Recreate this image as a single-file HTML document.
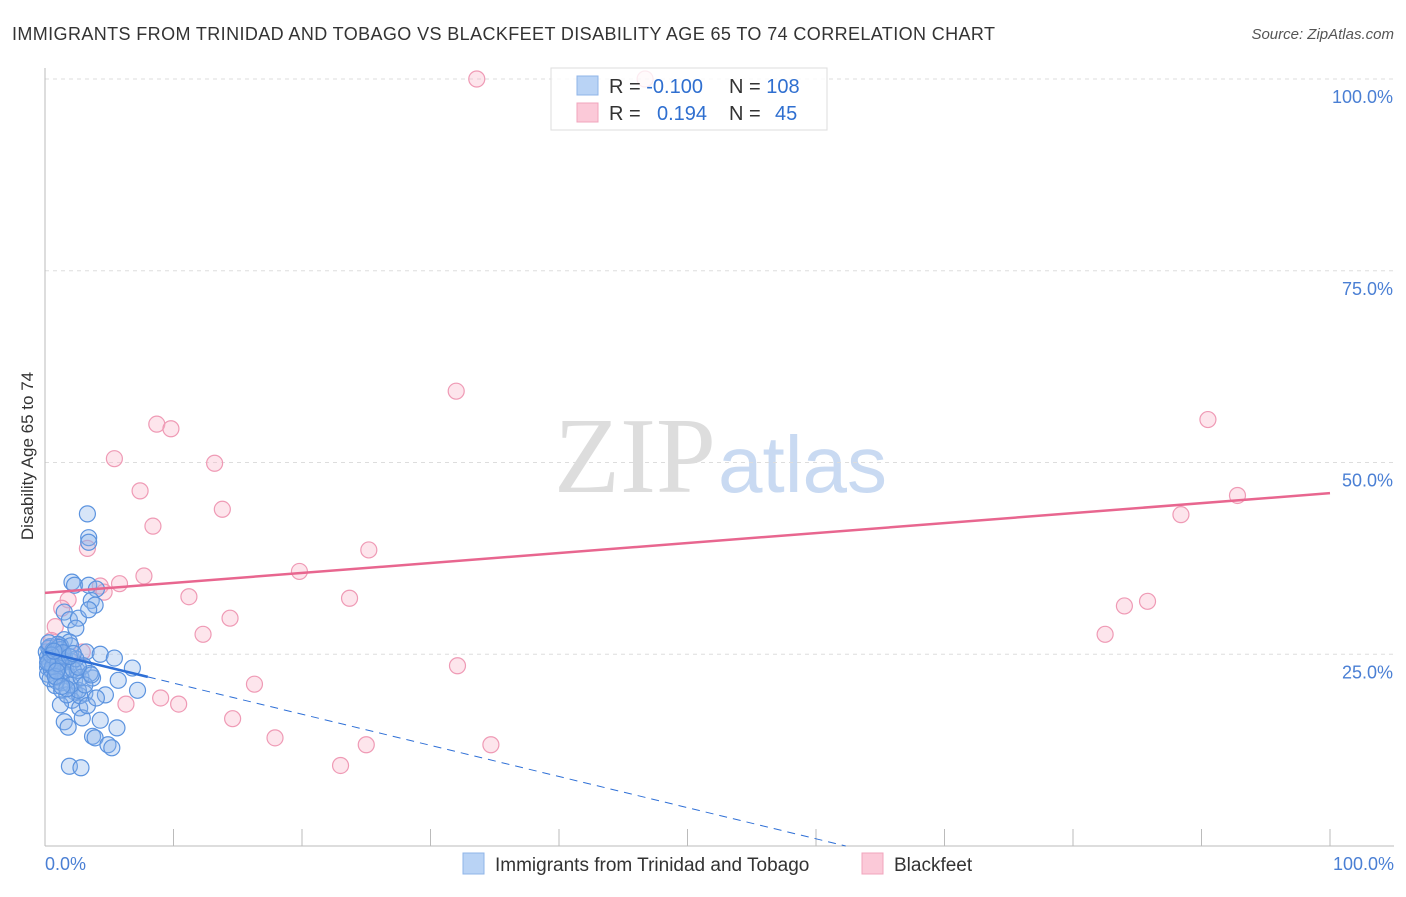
<!DOCTYPE html>
<html><head><meta charset="utf-8"><style>
body{margin:0;background:#fff;font-family:"Liberation Sans",sans-serif}
</style></head><body>
<svg width="1406" height="892" xmlns="http://www.w3.org/2000/svg">
<text x="12" y="40" font-size="18" fill="#333" textLength="983">IMMIGRANTS FROM TRINIDAD AND TOBAGO VS BLACKFEET DISABILITY AGE 65 TO 74 CORRELATION CHART</text>
<text x="1394" y="39" font-size="15" fill="#555" font-style="italic" text-anchor="end">Source: ZipAtlas.com</text>
<text x="716" y="492" font-size="108" fill="#ddd" text-anchor="end" font-family="Liberation Serif">ZIP</text>
<text x="718" y="492" font-size="80" fill="#c9daf2">atlas</text>
<g id="grid"></g>
<line x1="45" y1="68" x2="45" y2="846" stroke="#bbb"/>
<line x1="45" y1="846" x2="1394" y2="846" stroke="#bbb"/>
<text transform="translate(33,456) rotate(-90)" font-size="17" fill="#333" text-anchor="middle">Disability Age 65 to 74</text>
<text x="45" y="870" font-size="18" fill="#4a7fd4">0.0%</text>
<text x="1394" y="870" font-size="18" fill="#4a7fd4" text-anchor="end">100.0%</text>
<g id="marks"></g>
<g>
<rect x="551" y="68" width="276" height="62" fill="#fff" fill-opacity="0.8" stroke="#ddd"/>
<rect x="577" y="76" width="21" height="19" fill="#b9d3f5" stroke="#8fb4e8"/>
<rect x="577" y="103" width="21" height="19" fill="#fbc9d8" stroke="#f0a5bd"/>
<text x="609" y="93" font-size="20" fill="#333">R = <tspan fill="#2f6fd0">-0.100</tspan><tspan x="729">N = </tspan><tspan fill="#2f6fd0">108</tspan></text>
<text x="609" y="120" font-size="20" fill="#333">R = <tspan x="657" fill="#2f6fd0">0.194</tspan><tspan x="729">N = </tspan><tspan x="775" fill="#2f6fd0">45</tspan></text>
</g>
<g>
<rect x="463" y="853" width="21" height="21" fill="#b9d3f5" stroke="#8fb4e8"/>
<text x="495" y="871" font-size="19" fill="#333">Immigrants from Trinidad and Tobago</text>
<rect x="862" y="853" width="21" height="21" fill="#fbc9d8" stroke="#f0a5bd"/>
<text x="894" y="871" font-size="19" fill="#333">Blackfeet</text>
</g>
</svg>
<script>
const yTicks=[25,50,75,100];
const yTickLabels=["25.0%","50.0%","75.0%","100.0%"];
const xTicks=[0,10,20,30,40,50,60,70,80,90,100];
const blueX=[3.3,3.4,3.4,2.1,2.3,3.4,4.0,3.6,3.9,1.5,1.9,2.6,3.4,2.4,1.5,1.9,1.2,0.8,0.5,0.4,0.7,1.2,1.6,2.1,3.2,4.3,5.4,6.8,5.7,3.7,0.8,1.3,2.3,3.1,4.7,7.2,2.1,1.2,2.7,2.9,1.5,1.8,4.3,5.6,3.7,3.9,4.9,5.2,1.9,2.8,0.1,0.2,0.4,0.5,0.9,1.0,0.2,0.4,1.3,1.6,0.9,1.8,2.3,1.3,2.7,3.3,4.0,1.7,2.6,0.3,0.6,0.8,1.1,0.2,0.5,1.4,2.0,2.5,3.0,1.0,0.3,0.7,1.5,2.2,2.8,0.4,0.9,1.2,3.5,2.0,0.6,1.1,1.7,0.3,0.8,2.4,3.1,1.4,0.5,1.0,2.6,0.2,0.7,1.9,3.6,1.3,0.9,2.2];
const blueY=[43.3,40.2,39.6,34.4,34.0,34.0,33.5,32.0,31.4,30.5,29.5,29.7,30.8,28.4,26.9,26.6,26.1,25.3,24.3,24.9,23.6,23.7,23.2,24.0,25.3,25.0,24.5,23.2,21.6,21.9,20.9,20.3,20.1,19.9,19.7,20.3,19.0,18.4,18.0,16.7,16.2,15.5,16.4,15.4,14.3,14.1,13.2,12.8,10.4,10.2,25.3,24.6,23.7,22.9,24.9,23.1,23.3,26.0,25.0,24.0,22.0,22.2,21.6,21.3,19.6,18.3,19.3,19.7,20.3,25.8,25.5,24.2,24.6,22.4,23.0,22.6,21.0,22.9,23.5,26.3,24.0,25.0,24.8,23.0,22.0,21.8,21.5,25.6,22.5,26.1,23.4,25.9,20.5,26.5,22.1,24.4,21.0,25.2,24.9,23.8,23.3,23.9,25.4,24.7,22.3,20.8,22.8,25.1];
const pinkX=[33.6,46.7,32.0,90.5,8.7,9.8,5.4,13.2,7.4,13.8,92.8,88.4,3.3,25.2,8.4,7.7,5.8,4.3,4.6,19.8,11.2,23.7,1.8,1.3,85.8,84.0,14.4,12.3,82.5,0.8,0.5,32.1,2.9,16.3,9.0,10.4,6.3,14.6,17.9,25.0,34.7,23.0,0.5,1.2];
const pinkY=[100,100,59.3,55.6,55.0,54.4,50.5,49.9,46.3,43.9,45.7,43.2,38.8,38.6,41.7,35.2,34.2,33.9,33.1,35.8,32.5,32.3,32.1,31.0,31.9,31.3,29.7,27.6,27.6,28.6,26.8,23.5,25.3,21.1,19.3,18.5,18.5,16.6,14.1,13.2,13.2,10.5,25.8,24.5];
const blueTrend=[25.3,-0.406];
const pinkTrend=[33.0,0.13];
const NS="http://www.w3.org/2000/svg";
const xs=v=>45+v*12.85, ys=v=>846-v*7.67;
const grid=document.getElementById('grid'), marks=document.getElementById('marks');
function mk(tag,attrs,parent){const e=document.createElementNS(NS,tag);for(const k in attrs)e.setAttribute(k,attrs[k]);parent.appendChild(e);return e;}
yTicks.forEach((t,i)=>{
 const l=mk('line',{x1:45,x2:1394,y1:ys(t),y2:ys(t),stroke:'#ddd','stroke-dasharray':'4,4'},grid);
 
 
 const tx=mk('text',{x:1393,y:ys(t)+24,'font-size':18,fill:'#4a7fd4','text-anchor':'end'},grid);
 tx.textContent=yTickLabels[i];
 
 
});
xTicks.forEach(t=>{
 const l=mk('line',{x1:xs(t),x2:xs(t),y1:829,y2:846,stroke:'#bbb'},grid);
 
 
});
pinkX.forEach((x,i)=>{
 const c=mk('circle',{cx:xs(x),cy:ys(pinkY[i]),r:8,fill:'rgba(248,180,200,0.35)',stroke:'#ef9ab5','stroke-width':1.2},marks);
 
 
});
blueX.forEach((x,i)=>{
 const c=mk('circle',{cx:xs(x),cy:ys(blueY[i]),r:8,fill:'rgba(140,180,235,0.35)',stroke:'#5b93df','stroke-width':1.2},marks);
 
 
});
const bEnd=-blueTrend[0]/blueTrend[1];
let l1=mk('line',{x1:xs(0),y1:ys(blueTrend[0]),x2:xs(8),y2:ys(blueTrend[0]+8*blueTrend[1]),stroke:'#2e6fd6','stroke-width':2.5},marks);


let l2=mk('line',{x1:xs(8),y1:ys(blueTrend[0]+8*blueTrend[1]),x2:xs(bEnd),y2:ys(0),stroke:'#2e6fd6','stroke-width':1,'stroke-dasharray':'8,6'},marks);


let l3=mk('line',{x1:xs(0),y1:ys(pinkTrend[0]),x2:xs(100),y2:ys(pinkTrend[0]+100*pinkTrend[1]),stroke:'#e8668f','stroke-width':2.5},marks);


</script>
</body></html>
